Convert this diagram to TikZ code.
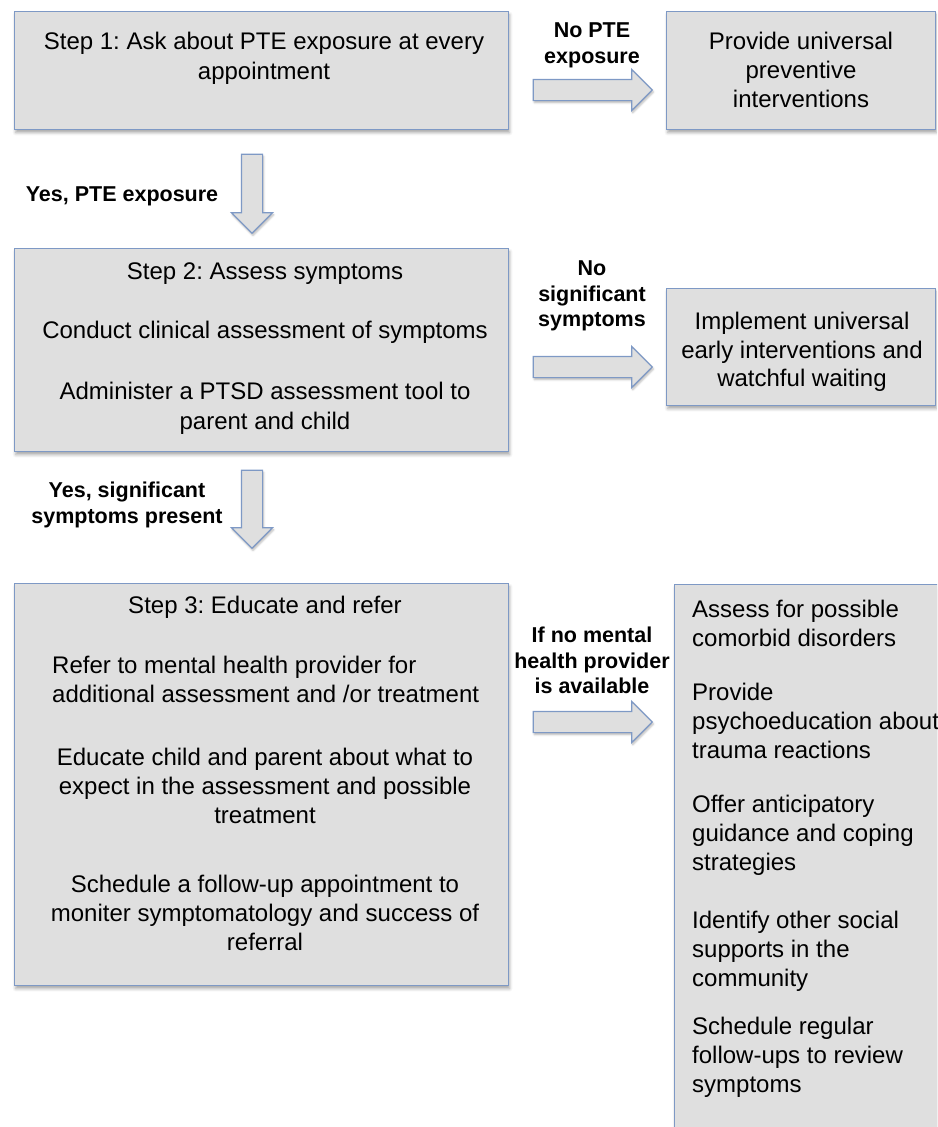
\documentclass[tikz,border=0pt]{standalone}
\usepackage{fontspec}
\setmainfont{Liberation Sans}
\usetikzlibrary{shapes.arrows,shadows.blur}
\frenchspacing

\definecolor{boxfill}{RGB}{223,223,223}
\definecolor{boxline}{RGB}{126,153,197}

\begin{document}
\begin{tikzpicture}[x=1pt, y=-1pt,
        box/.style={rectangle, draw=boxline, fill=boxfill, line width=1.2pt, inner sep=0pt, anchor=north west,
            blur shadow={shadow xshift=1pt, shadow yshift=-3pt, shadow blur radius=3pt, shadow opacity=35}},
        txt/.style={font=\fontsize{24}{29.5}\selectfont, align=center, inner sep=0pt, anchor=north},
        ltxt/.style={font=\fontsize{24}{29}\selectfont, align=left, inner sep=0pt, anchor=north west},
        lbl/.style={font=\fontsize{21.5}{25.5}\selectfont\bfseries, align=center, inner sep=0pt, anchor=north},
        blockarrow/.style={single arrow, draw=boxline, fill=boxfill, line width=1.2pt, inner sep=10pt,
            single arrow head extend=10pt, single arrow tip angle=90, minimum height=119pt,
            blur shadow={shadow xshift=1pt, shadow yshift=-2pt, shadow blur radius=2pt, shadow opacity=30}}]

            \useasboundingbox (0,0) rectangle (937,1127);
            \clip (0,0) rectangle (937,1127);

            % boxes
            \node[box, minimum width=494pt, minimum height=118pt] (step1) at (14,11) {};
            \node[box, minimum width=269pt, minimum height=118pt] (prevent) at (666,11) {};
            \node[box, minimum width=494pt, minimum height=203pt] (step2) at (14,248) {};
            \node[box, minimum width=269pt, minimum height=117pt] (waiting) at (666,288) {};
            \node[box, minimum width=494pt, minimum height=402pt] (step3) at (14,583) {};
            \node[box, minimum width=290pt, minimum height=570pt] (support) at (674,584) {};

            % block arrows
            \node[blockarrow] (noexp) at (587.5,90) {};
            \node[blockarrow] (nosymp) at (587.5,367) {};
            \node[blockarrow] (noprov) at (587.5,722) {};
            \node[blockarrow, minimum height=79pt, rotate=-90] (yesexp) at (252,188.5) {};
            \node[blockarrow, minimum height=78pt, rotate=-90] (yessymp) at (252,504) {};

            % arrow labels
            \node[lbl] (noexplbl) at (592,23) {No PTE\\exposure};
            \node[lbl] (yesexplbl) at (122,187) {Yes, PTE exposure};
            \node[lbl] (nosymplbl) at (592,261) {No\\significant\\symptoms};
            \node[lbl] (yessymplbl) at (127,482) {Yes, significant\\symptoms present};
            \node[lbl] (noprovlbl) at (592,627) {If no mental\\health provider\\is available};

            % step 1
            \node[txt] (step1txt) at (264,32) {Step 1: Ask about PTE exposure at every\\appointment};
            \node[txt, font=\fontsize{24}{29}\selectfont] (preventtxt) at (801,32) {Provide universal\\preventive\\interventions};

            % step 2
            \node[txt] (step2title) at (265,263) {Step 2: Assess symptoms};
            \node[txt] (step2a) at (265,321) {Conduct clinical assessment of symptoms};
            \node[txt] (step2b) at (265,382) {Administer a PTSD assessment tool to\\parent and child};
            \node[txt, font=\fontsize{24}{28.5}\selectfont] (waitingtxt) at (802,312) {Implement universal\\early interventions and\\watchful waiting};

            % step 3
            \node[txt] (step3title) at (265,596) {Step 3: Educate and refer};
            \node[ltxt] (step3a) at (52,656) {Refer to mental health provider for\\additional assessment and /or treatment};
            \node[txt, font=\fontsize{24}{29}\selectfont] (step3b) at (265,748) {Educate child and parent about what to\\expect in the assessment and possible\\treatment};
            \node[txt, font=\fontsize{24}{29}\selectfont] (step3c) at (265,875) {Schedule a follow-up appointment to\\moniter symptomatology and success of\\referral};

            % support without provider
            \node[ltxt] (supporta) at (692,600) {Assess for possible\\comorbid disorders};
            \node[ltxt] (supportb) at (692,683) {Provide\\psychoeducation about\\trauma reactions};
            \node[ltxt] (supportc) at (692,795) {Offer anticipatory\\guidance and coping\\strategies};
            \node[ltxt] (supportd) at (692,911) {Identify other social\\supports in the\\community};
            \node[ltxt] (supporte) at (692,1017) {Schedule regular\\follow-ups to review\\symptoms};
        \end{tikzpicture}
\end{document}
